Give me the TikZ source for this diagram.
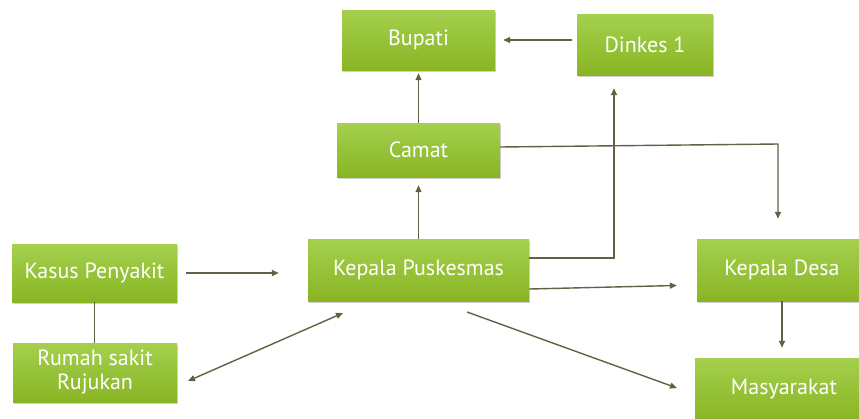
\documentclass[tikz,border=0pt]{standalone}
\usepackage{fontspec}
\setmainfont{PT Sans}
\usetikzlibrary{arrows.meta,shadows}
\definecolor{gtop}{HTML}{A4D04E}
\definecolor{gbot}{HTML}{89B524}
\definecolor{lnc}{HTML}{675F43}
\tikzset{
  gbox/.style={rectangle, inner sep=0pt, top color=gtop, bottom color=gbot, middle color=gtop!50!gbot,
    draw=none, text=white, font=\fontsize{22}{24}\selectfont, align=center,
    drop shadow={shadow xshift=1pt, shadow yshift=-2pt, opacity=0.3, fill=black!60}},
  conn/.style={draw=lnc, line width=1.4pt},
  arr/.style={conn, -{Triangle[length=7pt,width=6pt]}},
}
\begin{document}
\begin{tikzpicture}[x=1pt,y=-1pt]
\useasboundingbox (0,0) rectangle (859,418);
\clip (0,0) rectangle (859,418);
\node[gbox, minimum width=153pt, minimum height=60pt] (bupati) at (418.5,40) {Bupati};
\node[gbox, minimum width=136pt, minimum height=61pt] (dinkes) at (645,44.5) {Dinkes 1};
\node[gbox, minimum width=163pt, minimum height=54pt] (camat) at (418.5,150) {Camat};
\node[gbox, minimum width=165pt, minimum height=58pt] (kasus) at (94.5,273) {Kasus Penyakit};
\node[gbox, minimum width=164pt, minimum height=59pt] (rumah) at (95,372.5) {Rumah sakit\\Rujukan};
\node[gbox, minimum width=221pt, minimum height=62pt] (kp) at (418.5,270) {Kepala Puskesmas};
\node[gbox, minimum width=170pt, minimum height=62pt] (kd) at (782,270) {Kepala Desa};
\node[gbox, minimum width=178pt, minimum height=62pt] (mas) at (784,389) {Masyarakat};

\coordinate (c1) at (778,144);
\coordinate (d1) at (614,258);
\coordinate (m1) at (467,312);
\coordinate (m2) at (677,388);
\coordinate (r1) at (188,381);
\coordinate (r2) at (343,313);

% Dinkes -> Bupati
\draw[arr, shorten <=5pt, shorten >=8pt] (dinkes.west |- bupati.east) -- (bupati.east);
% Camat -> Bupati
\draw[arr, shorten >=3pt] (camat.north) -- (bupati.south);
% Kepala Puskesmas -> Camat
\draw[arr, shorten >=8pt] (kp.north) -- (camat.south);
% Camat -> Kepala Desa
\draw[arr, shorten >=20pt] ([yshift=3pt]camat.east) -- (c1) -- (kd.north -| c1);
% Kepala Puskesmas -> Dinkes
\draw[arr, shorten >=13pt] ([yshift=12pt]kp.east) -- (d1) -- (dinkes.south -| d1);
% Kepala Puskesmas -> Kepala Desa
\draw[arr, shorten >=20pt] ([yshift=-19pt]kp.east) -- ([yshift=-15pt]kd.west);
% Kepala Puskesmas -> Masyarakat
\draw[arr] (m1) -- (m2);
% Kasus -> Kepala Puskesmas
\draw[arr, shorten <=9pt, shorten >=29pt] (kasus.east) -- (kp.west |- kasus.east);
% Kasus -- Rumah sakit
\draw[conn] (kasus.south) -- (kasus.south |- rumah.north);
% Rumah sakit <-> Kepala Puskesmas
\draw[conn, {Triangle[length=7pt,width=6pt]}-{Triangle[length=7pt,width=6pt]}] (r1) -- (r2);
% Kepala Desa -> Masyarakat
\draw[arr, shorten >=10pt] (kd.south) -- (kd.south |- mas.north);
\end{tikzpicture}
\end{document}
